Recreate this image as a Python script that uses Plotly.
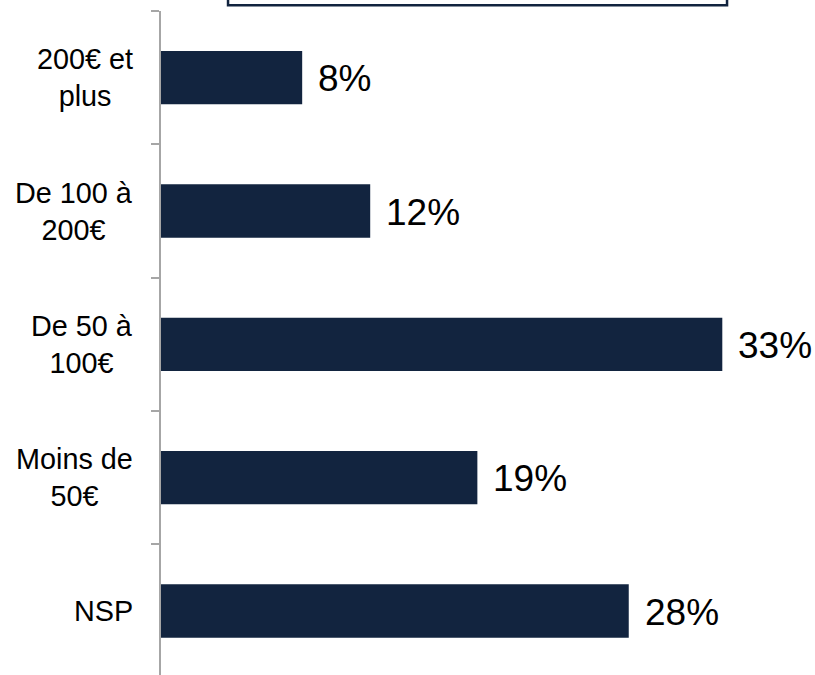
import plotly.graph_objects as go

# Data (bottom to top)
categories = ["NSP", "Moins de 50€", "De 50 à 100€", "De 100 à 200€", "200€ et plus"]
category_labels = ["NSP", "Moins de<br>50€", "De 50 à<br>100€", "De 100 à<br>200€", "200€ et<br>plus"]
values = [27.5, 18.6, 33.0, 12.3, 8.3]
value_labels = ["28%", "19%", "33%", "12%", "8%"]

NAVY = "#12243F"
GRAY = "#A6A6A6"

fig = go.Figure()
fig.add_trace(go.Bar(
    x=values, y=categories, orientation="h",
    marker=dict(color=NAVY, line=dict(width=0)),
    width=0.4,
    hoverinfo="skip",
))

annotations = []
for cat, v, lab in zip(categories, values, value_labels):
    annotations.append(dict(
        x=v, y=cat, xref="x", yref="y", text=lab, showarrow=False,
        xanchor="left", yanchor="middle", xshift=14, yshift=-1,
        font=dict(family="Liberation Sans, Arial, sans-serif", size=37, color="#000000"),
    ))
for cat, lab in zip(categories, category_labels):
    annotations.append(dict(
        x=0, y=cat, xref="paper", yref="y", text=lab, showarrow=False,
        xanchor="right", yanchor="middle", xshift=-26, align="center",
        font=dict(family="Liberation Sans, Arial, sans-serif", size=28.8, color="#000000"),
    ))

fig.update_layout(
    width=815, height=675,
    margin=dict(l=161, r=0, t=11, b=0, pad=0),
    paper_bgcolor="white", plot_bgcolor="white",
    showlegend=False,
    annotations=annotations,
    xaxis=dict(range=[0, 38.45], visible=False, fixedrange=True),
    yaxis=dict(
        type="category", categoryorder="array", categoryarray=categories,
        range=[-0.48, 4.5],
        showline=True, linecolor=GRAY, linewidth=2,
        ticks="outside", tickson="boundaries", ticklen=8, tickcolor=GRAY, tickwidth=2,
        showticklabels=False, showgrid=False, zeroline=False, fixedrange=True,
    ),
    shapes=[dict(
        type="rect", xref="paper", yref="paper",
        x0=0.1025, x1=0.8655, y0=1.0085, y1=1.05,
        line=dict(color=NAVY, width=2.5), fillcolor="rgba(0,0,0,0)",
    )],
)

fig.write_html("out.html", config={"displayModeBar": False},
               post_script="document.body.style.margin='0px';")
